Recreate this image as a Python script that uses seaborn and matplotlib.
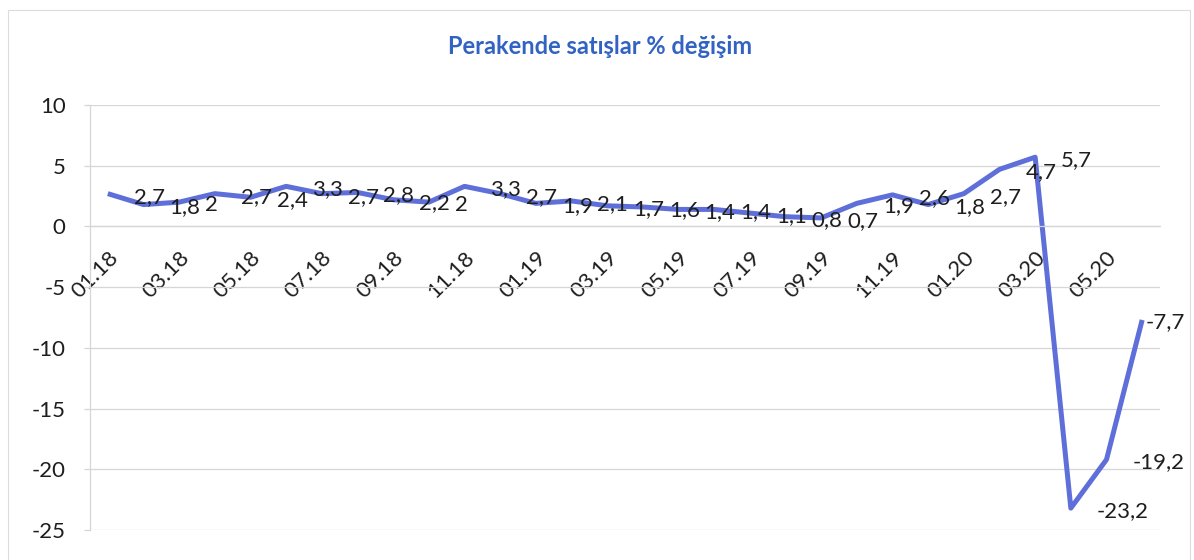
import matplotlib
matplotlib.use("Agg")
import matplotlib.pyplot as plt
from matplotlib.patches import Rectangle
import seaborn as sns
import pandas as pd
import numpy as np

months = ['01.18', '02.18', '03.18', '04.18', '05.18', '06.18', '07.18', '08.18', '09.18', '10.18',
          '11.18', '12.18', '01.19', '02.19', '03.19', '04.19', '05.19', '06.19', '07.19', '08.19',
          '09.19', '10.19', '11.19', '12.19', '01.20', '02.20', '03.20', '04.20', '05.20', '06.20']
values = [2.7, 1.8, 2.0, 2.7, 2.4, 3.3, 2.7, 2.8, 2.2, 2.0,
          3.3, 2.7, 1.9, 2.1, 1.7, 1.6, 1.4, 1.4, 1.1, 0.8,
          0.7, 1.9, 2.6, 1.8, 2.7, 4.7, 5.7, -23.2, -19.2, -7.7]
title = "Perakende satışlar % değişim"
y_ticks = [10, 5, 0, -5, -10, -15, -20, -25]

sns.set_theme(style="white")
plt.rcParams['font.family'] = ['Lato', 'DejaVu Sans']

df = pd.DataFrame({"pos": np.arange(len(months)), "value": values})

fig = plt.figure(figsize=(11.94, 5.6), dpi=100)
ax = fig.add_axes([90/1194, 1 - 530/560, (1160 - 90)/1194, (530 - 105)/560])

line_color = '#5f6fd9'
grid_color = '#d6d6d6'
text_color = '#1e1e1e'

sns.lineplot(data=df, x="pos", y="value", ax=ax, color=line_color, linewidth=3.6,
             solid_joinstyle='round', solid_capstyle='butt')

ax.set_xlim(-0.5, len(months) - 0.5)
ax.set_ylim(-25, 10)
ax.set_yticks(y_ticks)
ax.set_yticklabels([str(t) for t in y_ticks])
ax.yaxis.grid(True, color=grid_color, linewidth=0.9)
ax.xaxis.grid(False)

# category axis crossing at zero
ax.spines['bottom'].set_position(('data', 0))
for s in ['top', 'right']:
    ax.spines[s].set_visible(False)
ax.spines['bottom'].set_color(grid_color)
ax.spines['left'].set_color(grid_color)
ax.spines['bottom'].set_linewidth(0.9)
ax.spines['left'].set_linewidth(0.9)

major = np.arange(0, len(months), 2)
ax.set_xticks(major)
ax.set_xticklabels([months[i] for i in major], rotation=45, ha='right', va='top',
                   rotation_mode='anchor')
ax.set_xticks(np.arange(1.5, len(months), 2), minor=True)
ax.tick_params(axis='x', which='major', length=0, pad=15, labelsize=16, labelcolor=text_color)
ax.tick_params(axis='x', which='minor', length=4, width=0.9, color=grid_color, direction='out')
ax.tick_params(axis='y', which='major', length=4.5, width=0.9, color=grid_color, left=True,
               pad=13, labelsize=16, labelcolor=text_color)
ax.set_xlabel("")
ax.set_ylabel("")

for i, v in enumerate(values):
    off = (26, -3) if i < len(values) - 1 else (3, -2)
    ax.annotate(f"{v:g}".replace('.', ','), xy=(i, v), xytext=off, textcoords='offset pixels',
                ha='left', va='center', fontsize=16, color=text_color, annotation_clip=False)

fig.text(600/1194, 1 - 47/560, title, ha='center', va='center', fontsize=17,
         fontweight='bold', color='#3262c2')

fig.patches.append(Rectangle((8/1194, -0.01), (1190 - 8)/1194, 1 - 10/560 + 0.01,
                             transform=fig.transFigure, fill=False, edgecolor='#dcdcdc',
                             linewidth=0.8))

fig.savefig("out.png", dpi=100, facecolor='white')
